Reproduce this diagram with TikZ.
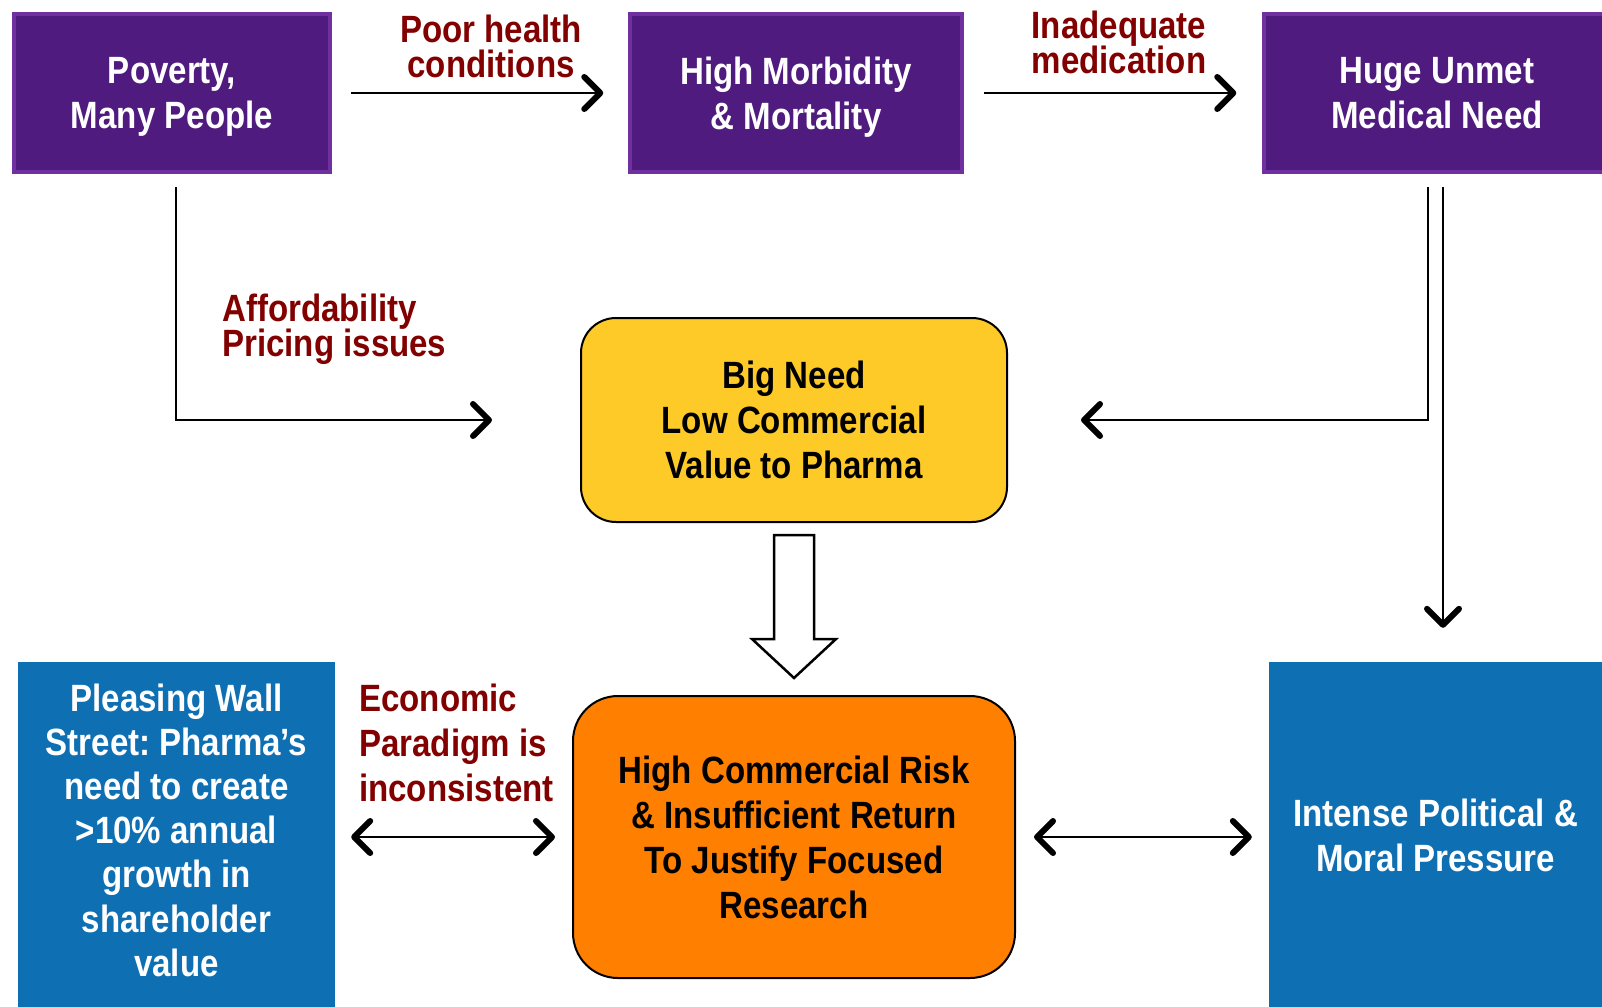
\documentclass[tikz,border=0pt]{standalone}
\usepackage{fontspec}
\setmainfont{Liberation Sans}[FakeStretch=0.87]
\usetikzlibrary{arrows.meta}
\definecolor{boxpurple}{HTML}{4F1B7E}
\definecolor{edgepurple}{HTML}{7030A0}
\definecolor{needyellow}{HTML}{FDCA28}
\definecolor{riskorange}{HTML}{FF7F00}
\definecolor{wallblue}{HTML}{0E6FB3}
\definecolor{labelred}{HTML}{820000}
\newcommand\boxfont{\bfseries\fontsize{38}{45}\selectfont\lineskiplimit=-20pt\frenchspacing}
\newcommand\tightfont{\bfseries\fontsize{38}{35}\selectfont\lineskiplimit=-20pt\frenchspacing}
\newcommand\wallfont{\bfseries\fontsize{38}{44.2}\selectfont\lineskiplimit=-20pt\frenchspacing}
\tikzset{
	txt/.style={font={\boxfont}, align=center, inner sep=0pt},
	topbox/.style={txt, draw=edgepurple, line width=3.5pt, fill=boxpurple, text=white},
	roundbox/.style={txt, draw=black, line width=2pt, text=black, rounded corners=#1},
	bluebox/.style={txt, fill=wallblue, text=white},
	redlabel/.style={txt, text=labelred},
	link/.style={line width=2.5pt, >={Straight Barb[length=16pt,width=32pt,line width=6pt,round]}}
}

\begin{document}
\begin{tikzpicture}[x=1pt, y=-1pt]
			%%%%% START %%%%%
			\useasboundingbox (0, 0) rectangle (1602, 1006);
			
			\node[topbox, minimum width=316pt, minimum height=158pt, text depth=-4pt] (poverty) at (172, 93) {Poverty,\\Many People};
			\node[topbox, minimum width=332pt, minimum height=158pt, text depth=-4pt] (morbid) at (796, 93) {High Morbidity\\\& Mortality};
			\node[topbox, minimum width=346pt, minimum height=158pt, text depth=-6pt] (unmet) at (1437, 93) {Huge Unmet\\Medical Need};
			
			\node[roundbox=35pt, fill=needyellow, minimum width=426pt, minimum height=204pt, text depth=-4pt] (need) at (794, 420) {Big Need\\Low Commercial\\Value to Pharma};
			\node[roundbox=45pt, fill=riskorange, minimum width=442pt, minimum height=282pt, text depth=-5pt] (risk) at (794, 837) {High Commercial Risk\\\& Insufficient Return\\To Justify Focused\\Research};
			
			\node[bluebox, font={\wallfont}, minimum width=317pt, minimum height=346pt, text depth=10pt] (wall) at (176.5, 835) {Pleasing Wall\\Street: Pharma’s\\need to create\\>10\% annual\\growth in\\shareholder\\value};
			\node[bluebox, minimum width=333pt, minimum height=346pt, text depth=-7pt] (press) at (1435.5, 835) {Intense Political \&\\Moral Pressure};
			
			\node[redlabel, font={\tightfont}] (lpoor) at (491, 46) {Poor health\\conditions};
			\node[redlabel, font={\tightfont}] (lmed) at (1119, 42) {Inadequate\\medication};
			\node[redlabel, font={\tightfont}, anchor=west, align=left, text depth=2pt] (lafford) at (222, 326) {Affordability\\Pricing issues};
			\node[redlabel, anchor=west, align=left] (lecon) at (359, 743) {Economic\\Paradigm is\\inconsistent};
			
			\draw[link, ->, shorten <=19pt, shorten >=25pt] (poverty.east) -- (morbid.west);
			\draw[link, ->, shorten <=20pt, shorten >=26pt] (morbid.east) -- (unmet.west);
			
			\draw[link, ->, shorten <=13pt, shorten >=88pt] ([xshift=4pt]poverty.south) |- (need.west);
			\draw[link, ->, shorten <=13pt, shorten >=73pt] ([xshift=-9pt]unmet.south) |- (need.east);
			\coordinate (down) at ([xshift=6pt]unmet.south);
			\draw[link, ->, shorten <=13pt, shorten >=34pt] (down) -- (down |- press.north);
			
			\draw[line width=2.5pt, fill=white] (774, 535) -- (814, 535) -- (814, 639) -- (836, 639) -- (794, 678) -- (752, 639) -- (774, 639) -- cycle;
			
			\draw[link, <->, shorten <=16pt, shorten >=17pt] (risk.west -| wall.east) -- (risk.west);
			\draw[link, <->, shorten <=18pt, shorten >=17pt] (risk.east) -- (risk.east -| press.west);
			
			%%%%% END %%%%%
\end{tikzpicture}
\end{document}
